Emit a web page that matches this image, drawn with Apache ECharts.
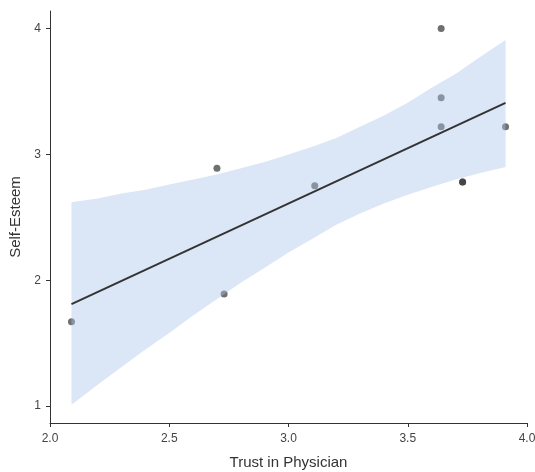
<!DOCTYPE html>
<html>
<head>
<meta charset="utf-8">
<script src="https://cdn.jsdelivr.net/npm/echarts@6/dist/echarts.min.js"></script>
<style>html,body{margin:0;padding:0;background:#fff;}#c{width:535px;height:472px;}</style>
</head>
<body>
<div id="c"></div>
<script>
// Observed points (x = Trust in Physician, y = Self-Esteem)
const pointX = [2.09, 2.70, 2.73, 3.11, 3.64, 3.64, 3.64, 3.73, 3.73, 3.91];
const pointY = [1.67, 2.89, 1.89, 2.75, 4.00, 3.45, 3.22, 2.78, 2.78, 3.22];
// Fitted regression line end points
const fitX = [2.09, 3.91];
const fitY = [1.81, 3.41];
// Confidence band
const bandX     = [2.09, 2.2, 2.3, 2.4, 2.5, 2.6, 2.7, 2.8, 2.9, 3.0, 3.1, 3.2, 3.3, 3.4, 3.5, 3.6, 3.7, 3.8, 3.91];
const bandLower = [1.01, 1.17, 1.31, 1.45, 1.58, 1.72, 1.85, 1.98, 2.10, 2.22, 2.33, 2.44, 2.53, 2.61, 2.68, 2.74, 2.80, 2.85, 2.90];
const bandUpper = [2.62, 2.65, 2.69, 2.72, 2.76, 2.80, 2.84, 2.89, 2.94, 3.00, 3.06, 3.13, 3.22, 3.31, 3.41, 3.53, 3.64, 3.77, 3.91];
// Tick labels
const xTicks = [2.0, 2.5, 3.0, 3.5, 4.0];
const yTicks = [1, 2, 3, 4];

const chart = echarts.init(document.getElementById('c'), null, {renderer: 'canvas'});
const font = 'Liberation Sans, Arial, Helvetica, sans-serif';

chart.setOption({
  animation: false,
  backgroundColor: '#ffffff',
  grid: {left: 50, right: 8, top: 11, bottom: 49, containLabel: false, outerBoundsMode: 'none'},
  xAxis: {
    type: 'value', min: 2, max: 4, interval: 0.5,
    name: 'Trust in Physician', nameLocation: 'middle', nameGap: 32,
    nameTextStyle: {fontFamily: font, fontSize: 15, color: '#333'},
    axisLine: {show: true, onZero: false, lineStyle: {color: '#333', width: 1}},
    axisTick: {show: true, length: 4, lineStyle: {color: '#333'}, customValues: xTicks},
    axisLabel: {fontFamily: font, fontSize: 12, color: '#444', margin: 10, customValues: xTicks,
      formatter: v => v.toFixed(1)},
    splitLine: {show: false}
  },
  yAxis: {
    type: 'value', min: 0.865, max: 4.14,
    name: 'Self-Esteem', nameLocation: 'middle', nameGap: 26, nameRotate: 90,
    nameTextStyle: {fontFamily: font, fontSize: 15, color: '#333'},
    axisLine: {show: true, onZero: false, lineStyle: {color: '#333', width: 1}},
    axisTick: {show: true, length: 4, lineStyle: {color: '#333'}, customValues: yTicks},
    axisLabel: {fontFamily: font, fontSize: 12, color: '#444', margin: 9, customValues: yTicks,
      formatter: v => String(v)},
    splitLine: {show: false}
  },
  series: [
    {
      type: 'scatter', z: 2,
      data: pointX.map((x, i) => [x, pointY[i]]),
      symbolSize: 7,
      itemStyle: {color: 'rgba(51,51,51,0.88)'}
    },
    {
      type: 'custom', z: 3,
      data: [[bandX[0], bandLower[0]]],
      renderItem: function (params, api) {
        const pts = [];
        for (let i = 0; i < bandX.length; i++) pts.push(api.coord([bandX[i], bandUpper[i]]));
        for (let i = bandX.length - 1; i >= 0; i--) pts.push(api.coord([bandX[i], bandLower[i]]));
        return {type: 'polygon', shape: {points: pts}, style: {fill: 'rgba(170,195,235,0.42)', stroke: null}};
      },
      silent: true
    },
    {
      type: 'line', z: 4,
      data: fitX.map((x, i) => [x, fitY[i]]),
      showSymbol: false, symbol: 'none',
      lineStyle: {color: '#333', width: 2}
    }
  ]
});
</script>
</body>
</html>
